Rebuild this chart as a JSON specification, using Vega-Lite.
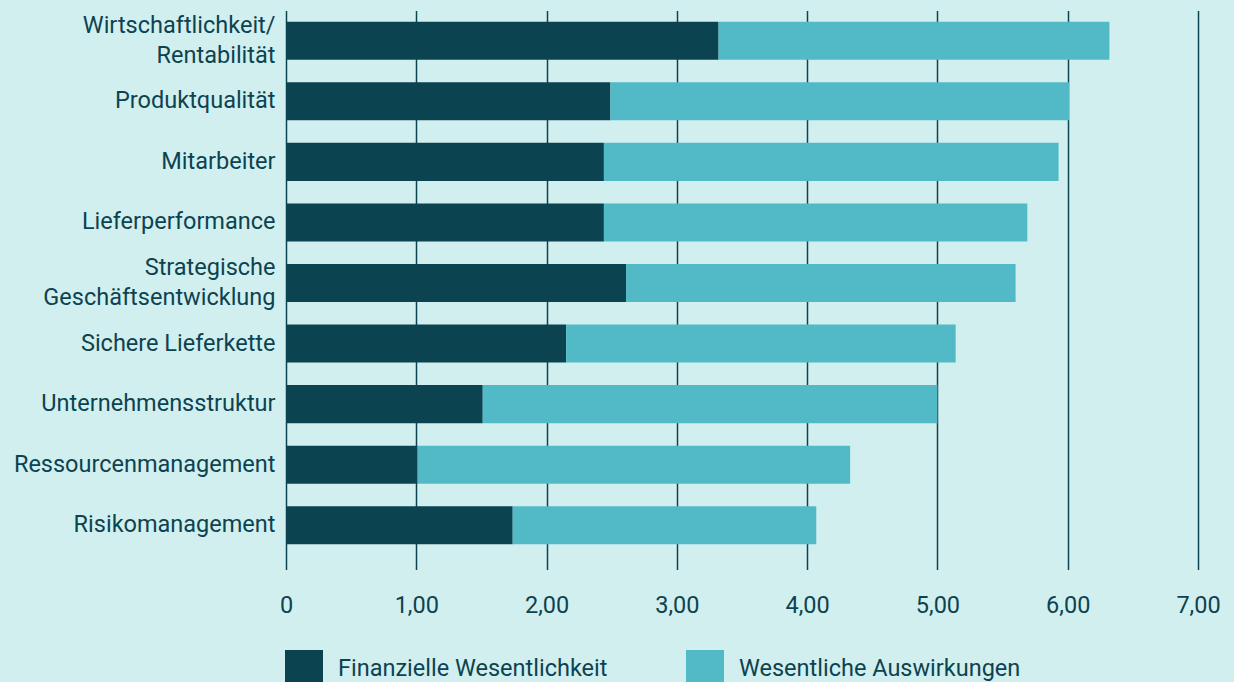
{
  "$schema": "https://vega.github.io/schema/vega-lite/v6.json",
  "autosize": {"type": "none"},
  "padding": {"left": 286, "top": 10.5, "right": 36, "bottom": 126.5},
  "width": 912,
  "height": 545,
  "background": "#d2efef",
  "config": {
    "view": {"stroke": null},
    "font": "Roboto",
    "locale": {"number": {"decimal": ",", "thousands": ".", "grouping": [3], "currency": ["", " €"]}},
    "style": {"guide-label": {"lineBreak": "|"}},
    "axis": {
      "title": null,
      "domain": false,
      "labelFont": "Roboto",
      "labelFontSize": 23.5,
      "labelColor": "#0c4350",
      "gridColor": "#0c4350",
      "gridWidth": 1.5,
      "tickColor": "#0c4350",
      "tickWidth": 1.5
    }
  },
  "data": {
    "values": [
      {"kategorie": "Wirtschaftlichkeit/|Rentabilität", "rang": 1, "reihe": "Finanzielle Wesentlichkeit", "ri": 0, "wert": 3.32},
      {"kategorie": "Wirtschaftlichkeit/|Rentabilität", "rang": 1, "reihe": "Wesentliche Auswirkungen", "ri": 1, "wert": 3.00},
      {"kategorie": "Produktqualität", "rang": 2, "reihe": "Finanzielle Wesentlichkeit", "ri": 0, "wert": 2.49},
      {"kategorie": "Produktqualität", "rang": 2, "reihe": "Wesentliche Auswirkungen", "ri": 1, "wert": 3.52},
      {"kategorie": "Mitarbeiter", "rang": 3, "reihe": "Finanzielle Wesentlichkeit", "ri": 0, "wert": 2.44},
      {"kategorie": "Mitarbeiter", "rang": 3, "reihe": "Wesentliche Auswirkungen", "ri": 1, "wert": 3.49},
      {"kategorie": "Lieferperformance", "rang": 4, "reihe": "Finanzielle Wesentlichkeit", "ri": 0, "wert": 2.44},
      {"kategorie": "Lieferperformance", "rang": 4, "reihe": "Wesentliche Auswirkungen", "ri": 1, "wert": 3.25},
      {"kategorie": "Strategische|Geschäftsentwicklung", "rang": 5, "reihe": "Finanzielle Wesentlichkeit", "ri": 0, "wert": 2.61},
      {"kategorie": "Strategische|Geschäftsentwicklung", "rang": 5, "reihe": "Wesentliche Auswirkungen", "ri": 1, "wert": 2.99},
      {"kategorie": "Sichere Lieferkette", "rang": 6, "reihe": "Finanzielle Wesentlichkeit", "ri": 0, "wert": 2.15},
      {"kategorie": "Sichere Lieferkette", "rang": 6, "reihe": "Wesentliche Auswirkungen", "ri": 1, "wert": 2.99},
      {"kategorie": "Unternehmensstruktur", "rang": 7, "reihe": "Finanzielle Wesentlichkeit", "ri": 0, "wert": 1.51},
      {"kategorie": "Unternehmensstruktur", "rang": 7, "reihe": "Wesentliche Auswirkungen", "ri": 1, "wert": 3.49},
      {"kategorie": "Ressourcenmanagement", "rang": 8, "reihe": "Finanzielle Wesentlichkeit", "ri": 0, "wert": 1.01},
      {"kategorie": "Ressourcenmanagement", "rang": 8, "reihe": "Wesentliche Auswirkungen", "ri": 1, "wert": 3.32},
      {"kategorie": "Risikomanagement", "rang": 9, "reihe": "Finanzielle Wesentlichkeit", "ri": 0, "wert": 1.74},
      {"kategorie": "Risikomanagement", "rang": 9, "reihe": "Wesentliche Auswirkungen", "ri": 1, "wert": 2.33}
    ]
  },
  "layer": [
    {
      "mark": {"type": "bar"},
      "encoding": {
        "y": {
          "field": "kategorie",
          "type": "nominal",
          "sort": {"field": "rang", "op": "min", "order": "ascending"},
          "scale": {"paddingInner": 0.372, "paddingOuter": 0.186},
          "axis": {
            "orient": "left",
            "ticks": false,
            "grid": false,
            "values": ["Produktqualität", "Mitarbeiter", "Lieferperformance", "Sichere Lieferkette", "Unternehmensstruktur", "Ressourcenmanagement", "Risikomanagement"],
            "labelPadding": 11,
            "labelLimit": 400
          }
        },
        "x": {
          "field": "wert",
          "type": "quantitative",
          "stack": "zero",
          "scale": {"domain": [0, 7], "nice": false},
          "axis": {
            "orient": "bottom",
            "values": [1, 2, 3, 4, 5, 6, 7],
            "format": ".2f",
            "grid": true,
            "tickSize": 14,
            "labelFlush": false,
            "labelPadding": 24
          }
        },
        "color": {
          "field": "reihe",
          "type": "nominal",
          "scale": {
            "domain": ["Finanzielle Wesentlichkeit", "Wesentliche Auswirkungen"],
            "range": ["#0c4350", "#52bac7"]
          },
          "legend": {
            "title": null,
            "orient": "none",
            "legendX": -1,
            "legendY": 639.5,
            "direction": "horizontal",
            "symbolType": "square",
            "symbolSize": 1444,
            "symbolStrokeWidth": 0,
            "symbolOpacity": 1,
            "labelOffset": 15,
            "labelFont": "Roboto",
            "labelFontSize": 23.5,
            "labelColor": "#0c4350",
            "labelLimit": 500,
            "columnPadding": 78
          }
        },
        "order": {"field": "ri", "type": "quantitative"}
      }
    },
    {
      "mark": {"type": "bar", "opacity": 0},
      "encoding": {
        "y": {
          "field": "kategorie",
          "type": "nominal",
          "sort": {"field": "rang", "op": "min", "order": "ascending"},
          "axis": {
            "orient": "left",
            "ticks": false,
            "grid": false,
            "values": ["Wirtschaftlichkeit/|Rentabilität", "Strategische|Geschäftsentwicklung"],
            "labelOffset": -14.75,
            "labelLineHeight": 29.5,
            "labelPadding": 11,
            "labelLimit": 400
          }
        },
        "x": {
          "field": "wert",
          "type": "quantitative",
          "stack": "zero",
          "axis": {
            "orient": "bottom",
            "values": [0],
            "format": "d",
            "grid": true,
            "tickSize": 14,
            "labelFlush": false,
            "labelPadding": 24
          }
        },
        "order": {"field": "ri", "type": "quantitative"}
      }
    }
  ],
  "resolve": {"axis": {"x": "independent", "y": "independent"}}
}
